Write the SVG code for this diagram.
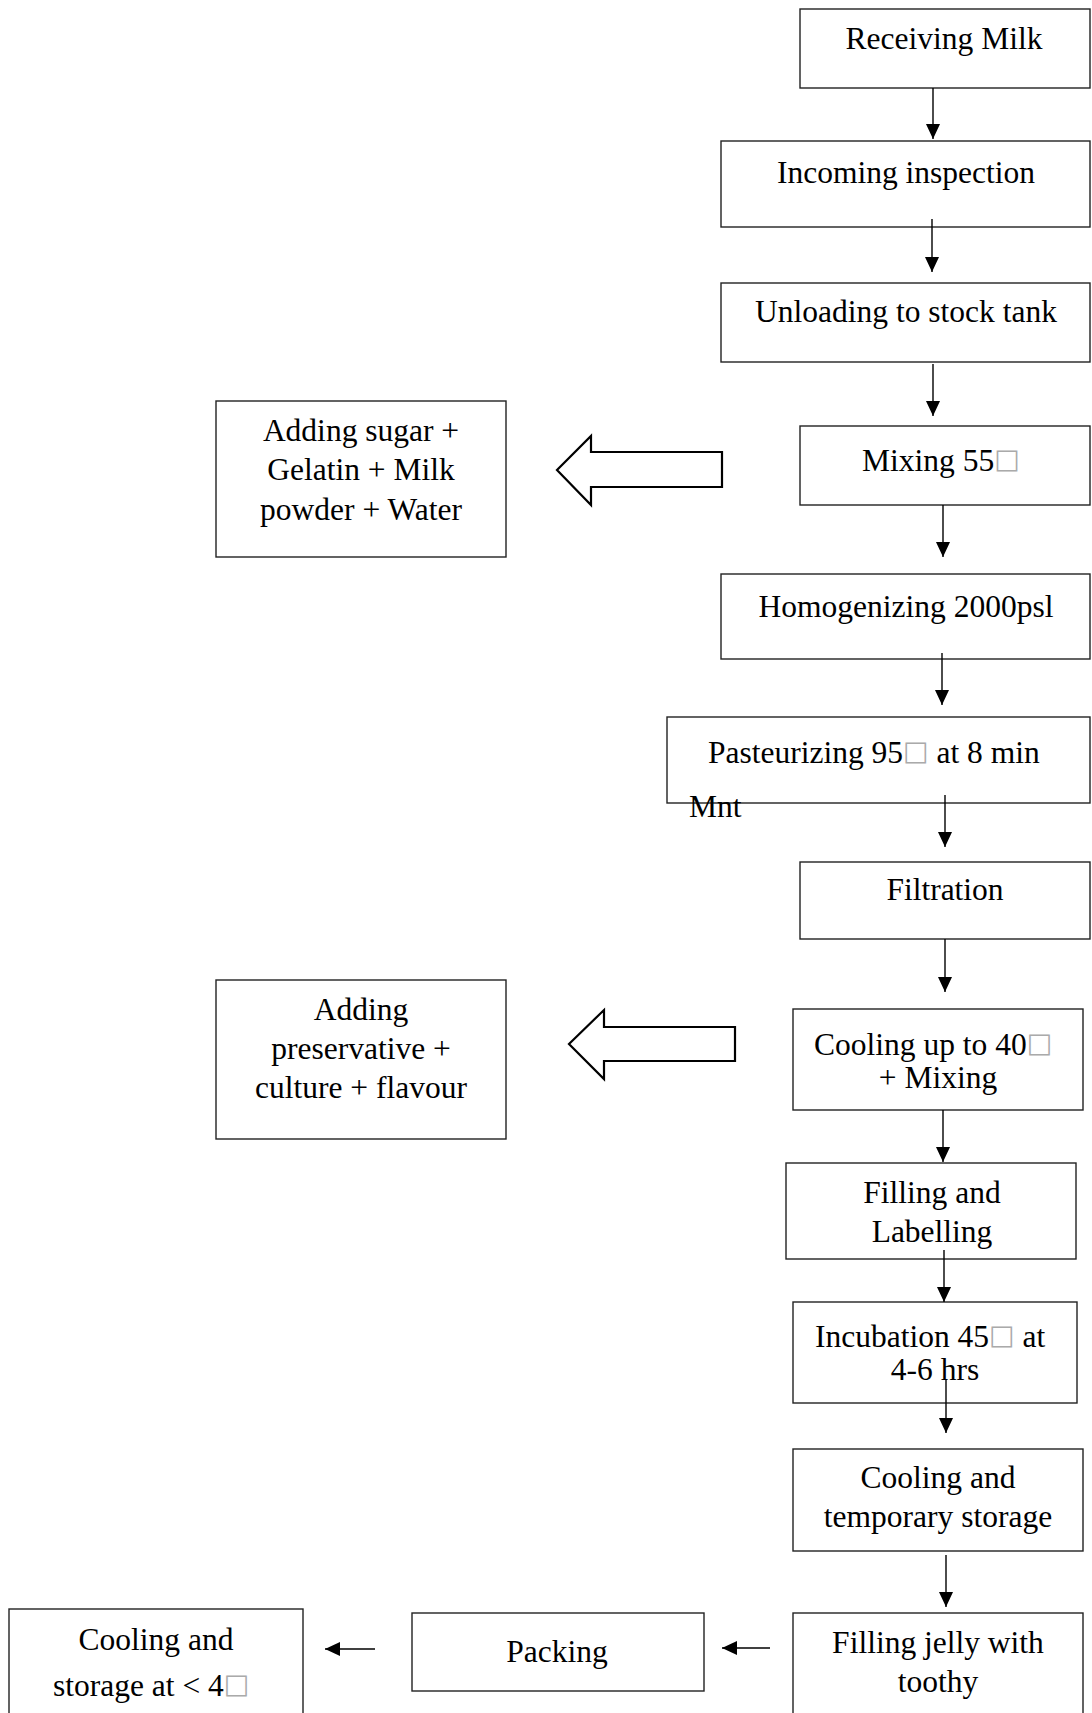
<svg xmlns="http://www.w3.org/2000/svg" width="1092" height="1713" viewBox="0 0 1092 1713">
  <style>
    .box { fill: #fff; stroke: #222; stroke-width: 1.4; }
    .lbl { font-family: "Liberation Serif", "Times New Roman", serif; font-size: 31.5px; fill: #000; }
    .mid { text-anchor: middle; }
    .deg { font-family: "DejaVu Sans", sans-serif; font-size: 27px; fill: #aaa; }
    .flow { stroke: #000; stroke-width: 1.4; fill: none; marker-end: url(#tip); }
    .block { fill: #fff; stroke: #000; stroke-width: 2.2; stroke-linejoin: miter; }
  </style>
  <defs>
    <marker id="tip" markerUnits="userSpaceOnUse" markerWidth="16" markerHeight="15" refX="15" refY="7" orient="auto">
      <path d="M0,0 L15,7 L0,14 z" fill="#000"/>
    </marker>
  </defs>
  <rect width="1092" height="1713" fill="#fff"/>

  <!-- process steps -->
  <g id="receiving-milk">
    <rect class="box" x="800" y="9" width="290" height="79"/>
    <text class="lbl mid" x="944" y="49">Receiving Milk</text>
  </g>
  <g id="incoming-inspection">
    <rect class="box" x="721" y="141" width="369" height="86"/>
    <text class="lbl mid" x="906" y="183">Incoming inspection</text>
  </g>
  <g id="unloading">
    <rect class="box" x="721" y="283" width="369" height="79"/>
    <text class="lbl mid" x="906" y="322">Unloading to stock tank</text>
  </g>
  <g id="mixing">
    <rect class="box" x="800" y="426" width="290" height="79"/>
    <text class="lbl" x="862" y="471">Mixing 55<tspan class="deg" baseline-shift="3">□</tspan></text>
  </g>
  <g id="adding-sugar">
    <rect class="box" x="216" y="401" width="290" height="156"/>
    <text class="lbl mid" x="361" y="441">Adding sugar +</text>
    <text class="lbl mid" x="361" y="480">Gelatin + Milk</text>
    <text class="lbl mid" x="361" y="520">powder + Water</text>
  </g>
  <g id="homogenizing">
    <rect class="box" x="721" y="574" width="369" height="85"/>
    <text class="lbl mid" x="906" y="617">Homogenizing 2000psl</text>
  </g>
  <g id="pasteurizing">
    <rect class="box" x="667" y="717" width="423" height="86"/>
    <text class="lbl" x="708" y="763">Pasteurizing 95<tspan class="deg" baseline-shift="3">□</tspan> at 8 min</text>
    <text class="lbl" x="689" y="817">Mnt</text>
  </g>
  <g id="filtration">
    <rect class="box" x="800" y="862" width="290" height="77"/>
    <text class="lbl mid" x="945" y="900">Filtration</text>
  </g>
  <g id="cooling-mixing">
    <rect class="box" x="793" y="1009" width="290" height="101"/>
    <text class="lbl" x="814" y="1055">Cooling up to 40<tspan class="deg" baseline-shift="3">□</tspan></text>
    <text class="lbl mid" x="938" y="1088">+ Mixing</text>
  </g>
  <g id="adding-preservative">
    <rect class="box" x="216" y="980" width="290" height="159"/>
    <text class="lbl mid" x="361" y="1020">Adding</text>
    <text class="lbl mid" x="361" y="1059">preservative +</text>
    <text class="lbl mid" x="361" y="1098">culture + flavour</text>
  </g>
  <g id="filling-labelling">
    <rect class="box" x="786" y="1163" width="290" height="96"/>
    <text class="lbl mid" x="932" y="1203">Filling and</text>
    <text class="lbl mid" x="932" y="1242">Labelling</text>
  </g>
  <g id="incubation">
    <rect class="box" x="793" y="1302" width="284" height="101"/>
    <text class="lbl" x="815" y="1347">Incubation 45<tspan class="deg" baseline-shift="3">□</tspan> at</text>
    <text class="lbl mid" x="935" y="1380">4-6 hrs</text>
  </g>
  <g id="cooling-temporary">
    <rect class="box" x="793" y="1449" width="290" height="102"/>
    <text class="lbl mid" x="938" y="1488">Cooling and</text>
    <text class="lbl mid" x="938" y="1527">temporary storage</text>
  </g>
  <g id="filling-jelly">
    <rect class="box" x="793" y="1613" width="290" height="110"/>
    <text class="lbl mid" x="938" y="1653">Filling jelly with</text>
    <text class="lbl mid" x="938" y="1692">toothy</text>
  </g>
  <g id="packing">
    <rect class="box" x="412" y="1613" width="292" height="78"/>
    <text class="lbl mid" x="557" y="1662">Packing</text>
  </g>
  <g id="cooling-storage">
    <rect class="box" x="9" y="1609" width="294" height="114"/>
    <text class="lbl mid" x="156" y="1650">Cooling and</text>
    <text class="lbl" x="53" y="1696">storage at &lt; 4<tspan class="deg" baseline-shift="3">□</tspan></text>
  </g>

  <!-- connectors -->
  <g id="connectors">
    <line class="flow" x1="933" y1="88" x2="933" y2="139"/>
    <line class="flow" x1="932" y1="219" x2="932" y2="272"/>
    <line class="flow" x1="933" y1="364" x2="933" y2="416"/>
    <line class="flow" x1="943" y1="505" x2="943" y2="557"/>
    <line class="flow" x1="942" y1="653" x2="942" y2="705"/>
    <line class="flow" x1="945" y1="795" x2="945" y2="847"/>
    <line class="flow" x1="945" y1="939" x2="945" y2="992"/>
    <line class="flow" x1="943" y1="1110" x2="943" y2="1162"/>
    <line class="flow" x1="944" y1="1250" x2="944" y2="1302"/>
    <line class="flow" x1="946" y1="1380" x2="946" y2="1433"/>
    <line class="flow" x1="946" y1="1555" x2="946" y2="1607"/>
    <line class="flow" x1="770" y1="1648" x2="722" y2="1648"/>
    <line class="flow" x1="375" y1="1649" x2="325" y2="1649"/>
    <polygon class="block" points="722,452 591,452 591,436 557,470 591,505 591,487 722,487"/>
    <polygon class="block" points="735,1027 604,1027 604,1010 569,1044 604,1079 604,1061 735,1061"/>
  </g>
</svg>
